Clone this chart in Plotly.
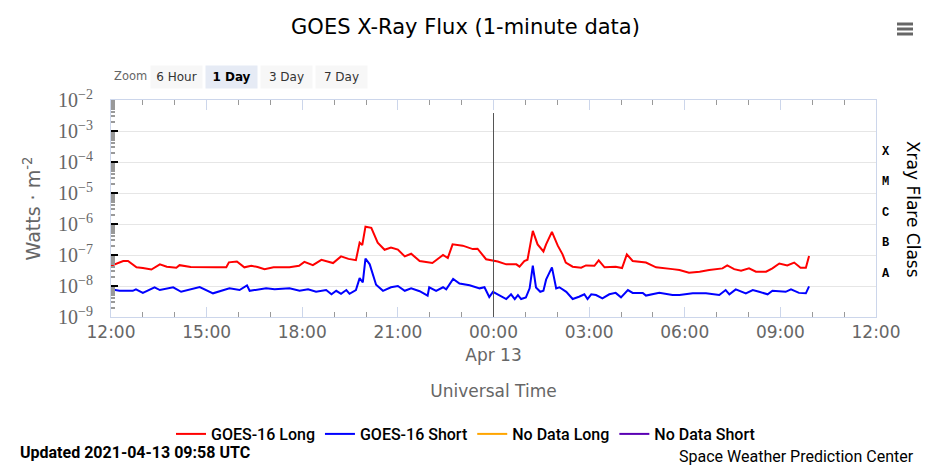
import plotly.graph_objects as go

# ---------------- data ----------------
long_times = [
    "2021-04-12 12:00", "2021-04-12 12:23", "2021-04-12 12:32", "2021-04-12 12:48", "2021-04-12 13:00",
    "2021-04-12 13:16", "2021-04-12 13:32", "2021-04-12 13:45", "2021-04-12 14:03", "2021-04-12 14:09",
    "2021-04-12 14:30", "2021-04-12 15:00", "2021-04-12 15:18", "2021-04-12 15:37", "2021-04-12 15:42",
    "2021-04-12 15:57", "2021-04-12 16:11", "2021-04-12 16:24", "2021-04-12 16:36", "2021-04-12 16:49",
    "2021-04-12 17:06", "2021-04-12 17:36", "2021-04-12 17:54", "2021-04-12 18:04", "2021-04-12 18:20",
    "2021-04-12 18:36", "2021-04-12 18:48", "2021-04-12 18:58", "2021-04-12 19:13", "2021-04-12 19:27",
    "2021-04-12 19:41", "2021-04-12 19:48", "2021-04-12 19:53", "2021-04-12 19:59", "2021-04-12 20:10",
    "2021-04-12 20:22", "2021-04-12 20:35", "2021-04-12 20:47", "2021-04-12 21:00", "2021-04-12 21:13",
    "2021-04-12 21:25", "2021-04-12 21:41", "2021-04-12 22:05", "2021-04-12 22:25", "2021-04-12 22:34",
    "2021-04-12 22:43", "2021-04-12 23:02", "2021-04-12 23:21", "2021-04-12 23:30", "2021-04-12 23:46",
    "2021-04-13 00:08", "2021-04-13 00:24", "2021-04-13 00:43", "2021-04-13 00:49", "2021-04-13 00:58",
    "2021-04-13 01:04", "2021-04-13 01:14", "2021-04-13 01:23", "2021-04-13 01:34", "2021-04-13 01:39",
    "2021-04-13 01:50", "2021-04-13 02:01", "2021-04-13 02:10", "2021-04-13 02:16", "2021-04-13 02:29",
    "2021-04-13 02:45", "2021-04-13 02:54", "2021-04-13 03:10", "2021-04-13 03:18", "2021-04-13 03:29",
    "2021-04-13 03:50", "2021-04-13 04:02", "2021-04-13 04:11", "2021-04-13 04:22", "2021-04-13 04:47",
    "2021-04-13 05:06", "2021-04-13 05:37", "2021-04-13 05:50", "2021-04-13 06:08", "2021-04-13 06:28",
    "2021-04-13 06:46", "2021-04-13 07:11", "2021-04-13 07:20", "2021-04-13 07:33", "2021-04-13 07:46",
    "2021-04-13 08:01", "2021-04-13 08:14", "2021-04-13 08:33", "2021-04-13 08:45", "2021-04-13 08:58",
    "2021-04-13 09:13", "2021-04-13 09:26", "2021-04-13 09:38", "2021-04-13 09:48", "2021-04-13 09:54",
]
long_flux = [
    4.5e-8, 6.4e-8, 6.4e-8, 4.0e-8, 3.8e-8,
    3.4e-8, 5.0e-8, 4.2e-8, 3.9e-8, 4.7e-8,
    4.1e-8, 3.9e-8, 4.0e-8, 4.0e-8, 5.8e-8,
    6.2e-8, 4.0e-8, 4.5e-8, 4.1e-8, 3.5e-8,
    4.0e-8, 4.0e-8, 4.5e-8, 6.0e-8, 4.7e-8,
    7.0e-8, 6.2e-8, 5.5e-8, 9.0e-8, 7.5e-8,
    6.8e-8, 2.5e-7, 2.1e-7, 8.2e-7, 7.5e-7,
    2.5e-7, 1.47e-7, 1.75e-7, 1.5e-7, 9.0e-8,
    1.1e-7, 6.4e-8, 5.5e-8, 1.0e-7, 8.0e-8,
    2.2e-7, 2.0e-7, 1.55e-7, 1.6e-7, 7.3e-8,
    6.2e-8, 5.0e-8, 5.0e-8, 4.2e-8, 6.4e-8,
    7.0e-8, 6.0e-7, 2.2e-7, 1.3e-7, 2.2e-7,
    5.6e-7, 2.0e-7, 1.05e-7, 5.7e-8, 4.2e-8,
    3.9e-8, 4.6e-8, 4.5e-8, 6.7e-8, 4.0e-8,
    4.2e-8, 3.8e-8, 1.05e-7, 6.4e-8, 5.7e-8,
    4.0e-8, 3.5e-8, 3.3e-8, 2.7e-8, 2.9e-8,
    3.3e-8, 3.7e-8, 4.6e-8, 3.5e-8, 3.1e-8,
    3.7e-8, 2.9e-8, 2.9e-8, 3.7e-8, 5.3e-8,
    4.6e-8, 5.7e-8, 3.9e-8, 3.9e-8, 9.3e-8,
]

short_times = [
    "2021-04-12 12:00", "2021-04-12 12:16", "2021-04-12 12:41", "2021-04-12 12:47", "2021-04-12 13:00",
    "2021-04-12 13:22", "2021-04-12 13:32", "2021-04-12 13:57", "2021-04-12 14:12", "2021-04-12 14:47",
    "2021-04-12 15:12", "2021-04-12 15:43", "2021-04-12 16:02", "2021-04-12 16:16", "2021-04-12 16:21",
    "2021-04-12 16:52", "2021-04-12 17:08", "2021-04-12 17:36", "2021-04-12 17:55", "2021-04-12 18:11",
    "2021-04-12 18:26", "2021-04-12 18:45", "2021-04-12 18:55", "2021-04-12 19:04", "2021-04-12 19:13",
    "2021-04-12 19:23", "2021-04-12 19:29", "2021-04-12 19:41", "2021-04-12 19:48", "2021-04-12 19:54",
    "2021-04-12 19:59", "2021-04-12 20:07", "2021-04-12 20:19", "2021-04-12 20:32", "2021-04-12 20:47",
    "2021-04-12 21:00", "2021-04-12 21:13", "2021-04-12 21:25", "2021-04-12 21:41", "2021-04-12 21:56",
    "2021-04-12 21:59", "2021-04-12 22:12", "2021-04-12 22:25", "2021-04-12 22:31", "2021-04-12 22:44",
    "2021-04-12 22:56", "2021-04-12 23:15", "2021-04-12 23:34", "2021-04-12 23:43", "2021-04-12 23:52",
    "2021-04-12 23:59", "2021-04-13 00:11", "2021-04-13 00:24", "2021-04-13 00:33", "2021-04-13 00:40",
    "2021-04-13 00:46", "2021-04-13 00:52", "2021-04-13 01:01", "2021-04-13 01:08", "2021-04-13 01:14",
    "2021-04-13 01:20", "2021-04-13 01:28", "2021-04-13 01:34", "2021-04-13 01:39", "2021-04-13 01:50",
    "2021-04-13 01:58", "2021-04-13 02:04", "2021-04-13 02:17", "2021-04-13 02:29", "2021-04-13 02:41",
    "2021-04-13 02:51", "2021-04-13 02:57", "2021-04-13 03:04", "2021-04-13 03:13", "2021-04-13 03:25",
    "2021-04-13 03:38", "2021-04-13 03:50", "2021-04-13 04:00", "2021-04-13 04:13", "2021-04-13 04:22",
    "2021-04-13 04:41", "2021-04-13 04:47", "2021-04-13 05:12", "2021-04-13 05:37", "2021-04-13 05:50",
    "2021-04-13 06:15", "2021-04-13 06:40", "2021-04-13 07:05", "2021-04-13 07:17", "2021-04-13 07:24",
    "2021-04-13 07:36", "2021-04-13 07:55", "2021-04-13 08:08", "2021-04-13 08:20", "2021-04-13 08:36",
    "2021-04-13 08:45", "2021-04-13 09:10", "2021-04-13 09:20", "2021-04-13 09:35", "2021-04-13 09:48",
    "2021-04-13 09:54",
]
short_flux = [
    7.8e-9, 7.0e-9, 7.0e-9, 7.8e-9, 6.0e-9,
    9.1e-9, 7.4e-9, 9.1e-9, 6.5e-9, 9.3e-9,
    5.8e-9, 8.4e-9, 7.4e-9, 1.05e-8, 7.0e-9,
    8.4e-9, 7.8e-9, 8.4e-9, 7.0e-9, 7.8e-9,
    6.5e-9, 7.4e-9, 5.4e-9, 7.0e-9, 5.6e-9,
    7.4e-9, 5.6e-9, 7.4e-9, 1.8e-8, 1.3e-8,
    7.7e-8, 5.0e-8, 1.1e-8, 7.0e-9, 9.1e-9,
    1.0e-8, 7.0e-9, 8.4e-9, 6.8e-9, 4.9e-9,
    9.1e-9, 7.0e-9, 9.1e-9, 7.8e-9, 1.7e-8,
    1.2e-8, 1.05e-8, 8.4e-9, 9.1e-9, 4.4e-9,
    6.5e-9, 5.0e-9, 3.8e-9, 5.4e-9, 3.8e-9,
    5.1e-9, 3.8e-9, 4.3e-9, 8.4e-9, 4.5e-8,
    9.0e-9, 6.5e-9, 7.0e-9, 1.6e-8, 4.0e-8,
    8.4e-9, 9.1e-9, 6.5e-9, 3.8e-9, 4.5e-9,
    5.4e-9, 3.8e-9, 5.4e-9, 5.1e-9, 4.0e-9,
    5.4e-9, 6.0e-9, 4.3e-9, 7.4e-9, 6.0e-9,
    6.0e-9, 4.9e-9, 6.0e-9, 5.1e-9, 5.1e-9,
    5.8e-9, 5.8e-9, 5.1e-9, 7.4e-9, 5.4e-9,
    7.8e-9, 5.8e-9, 7.4e-9, 6.5e-9, 5.4e-9,
    7.0e-9, 6.5e-9, 7.8e-9, 6.0e-9, 5.8e-9,
    9.7e-9,
]

# series with no data (legend entries only)
no_data_long_times = [None]
no_data_long_flux = [None]
no_data_short_times = [None]
no_data_short_flux = [None]

x_tickvals = ["2021-04-12 12:00", "2021-04-12 15:00", "2021-04-12 18:00", "2021-04-12 21:00",
              "2021-04-13 00:00", "2021-04-13 03:00", "2021-04-13 06:00", "2021-04-13 09:00",
              "2021-04-13 12:00"]
x_ticktext = ["12:00", "15:00", "18:00", "21:00", "00:00<br>Apr 13", "03:00", "06:00", "09:00", "12:00"]

y_tickvals = [1e-9, 1e-8, 1e-7, 1e-6, 1e-5, 1e-4, 1e-3, 1e-2]
y_ticktext = ["10<sup>−9</sup>", "10<sup>−8</sup>", "10<sup>−7</sup>", "10<sup>−6</sup>",
              "10<sup>−5</sup>", "10<sup>−4</sup>", "10<sup>−3</sup>", "10<sup>−2</sup>"]

flare_classes = ["X", "M", "C", "B", "A"]
flare_class_exp = [-3.67, -4.65, -5.65, -6.62, -7.6]

zoom_buttons = ["6 Hour", "1 Day", "3 Day", "7 Day"]
zoom_active = "1 Day"

# ---------------- figure ----------------
fig = go.Figure()
fig.add_trace(go.Scatter(x=long_times, y=long_flux, mode="lines", name="GOES-16 Long",
                         line=dict(color="#ff0000", width=2)))
fig.add_trace(go.Scatter(x=short_times, y=short_flux, mode="lines", name="GOES-16 Short",
                         line=dict(color="#0000ff", width=2)))
fig.add_trace(go.Scatter(x=no_data_long_times, y=no_data_long_flux, mode="lines", name="No Data Long",
                         line=dict(color="#ffa500", width=2), showlegend=True))
fig.add_trace(go.Scatter(x=no_data_short_times, y=no_data_short_flux, mode="lines", name="No Data Short",
                         line=dict(color="#5a00b4", width=2), showlegend=True))

sans = "DejaVu Sans, Verdana, sans-serif"
narrow = "Roboto, Liberation Sans, sans-serif"

fig.update_layout(
    width=931, height=475,
    margin=dict(l=111, r=55, t=100, b=158),
    paper_bgcolor="white", plot_bgcolor="white",
    title=dict(text="GOES X-Ray Flux (1-minute data)", x=0.5, xanchor="center",
               y=1 - 27 / 475, yanchor="middle", font=dict(family=sans, size=21, color="#000")),
    showlegend=True,
    legend=dict(orientation="h", xref="container", x=0.5, xanchor="center",
                yref="container", y=1 - 434 / 475, yanchor="middle",
                font=dict(family=narrow, size=16, color="#000", weight=500), itemwidth=30,
                bgcolor="rgba(0,0,0,0)"),
    xaxis=dict(
        type="date", range=["2021-04-12 12:00", "2021-04-13 12:00"],
        tickmode="array", tickvals=x_tickvals, ticktext=x_ticktext,
        ticks="inside", ticklen=10, tickcolor="#ccd6eb", tickwidth=1,
        tickfont=dict(family=sans, size=17, color="#666666"),
        showgrid=False, zeroline=False,
        showline=True, linecolor="#ccd6eb", linewidth=1, mirror="ticks",
        minor=dict(dtick=3600000, tick0="2021-04-12 12:00", ticks="inside", ticklen=5,
                   tickcolor="#999999", showgrid=False),
        title=dict(text="Universal Time", font=dict(family=sans, size=17, color="#666666"),
                   standoff=21),
        automargin=False,
        fixedrange=True,
    ),
    yaxis=dict(
        type="log", range=[-9, -2],
        tickmode="array", tickvals=y_tickvals, ticktext=y_ticktext,
        ticks="inside", ticklen=7, tickcolor="#000000", tickwidth=2,
        tickfont=dict(family="Liberation Serif, DejaVu Serif, serif", size=20, color="#666666"),
        showgrid=True, gridcolor="#e6e6e6", gridwidth=1, zeroline=False,
        showline=True, linecolor="#ccd6eb", linewidth=1, mirror=True,
        minor=dict(dtick="D1", ticks="inside", ticklen=4, tickcolor="#999999", showgrid=False),
        title=dict(text="Watts · m<sup>-2</sup>", font=dict(family=sans, size=19, color="#666666"),
                   standoff=12),
        ticklabelstandoff=13,
        automargin=False,
        fixedrange=True,
    ),
)

# midnight plot line
fig.add_shape(type="line", xref="x", yref="paper", x0="2021-04-13 00:00", x1="2021-04-13 00:00",
              y0=0, y1=0.94, line=dict(color="#555555", width=1))

# flare class labels on the right
for lab, ex in zip(flare_classes, flare_class_exp):
    fig.add_annotation(text=lab, xref="paper", x=1.013, yref="y", y=ex, showarrow=False,
                       xanchor="center", yanchor="middle",
                       font=dict(family="Liberation Mono, DejaVu Sans Mono, monospace", size=12,
                                 color="#000", weight="bold"))
fig.add_annotation(text="Xray Flare Class", xref="paper", x=1.0484, yref="paper", y=0.498,
                   textangle=90, showarrow=False, xanchor="center", yanchor="middle",
                   font=dict(family=sans, size=17, color="#000"))

# zoom label and buttons
fig.add_annotation(text="Zoom", xref="paper", x=(130 - 111) / 765, yref="paper", y=(317 - 76) / 217,
                   showarrow=False, xanchor="center", yanchor="middle",
                   font=dict(family=sans, size=11.5, color="#666666"))
btn_centers = [176.5, 231.5, 286.5, 341.5]
for lab, cx in zip(zoom_buttons, btn_centers):
    active = lab == zoom_active
    fig.add_annotation(text=("<b>%s</b>" % lab) if active else lab, xref="paper",
                       x=(cx - 111) / 765, yref="paper", y=(317 - 77) / 217,
                       showarrow=False, xanchor="center", yanchor="middle",
                       width=49, height=20, bgcolor="#e6ebf5" if active else "#f7f7f7",
                       font=dict(family=sans, size=12, color="#000" if active else "#333333"))

# footer texts
fig.add_annotation(text="<b>Updated 2021-04-13 09:58 UTC</b>", xref="paper", x=(18 - 111) / 765,
                   yref="paper", y=(317 - 452) / 217, showarrow=False, xanchor="left", yanchor="middle",
                   font=dict(family=narrow, size=16, color="#000"))
fig.add_annotation(text="Space Weather Prediction Center", xref="paper", x=(916 - 111) / 765,
                   yref="paper", y=(317 - 456) / 217, showarrow=False, xanchor="right", yanchor="middle",
                   font=dict(family=narrow, size=16, color="#000"))

# hamburger menu icon
for py in [24, 29, 34]:
    fig.add_shape(type="line", xref="paper", yref="paper",
                  x0=(897 - 111) / 765, x1=(913 - 111) / 765,
                  y0=(317 - py) / 217, y1=(317 - py) / 217,
                  line=dict(color="#666666", width=3))

fig.write_html("out.html", config={"displayModeBar": False},
               post_script="document.body.style.margin='0';")
